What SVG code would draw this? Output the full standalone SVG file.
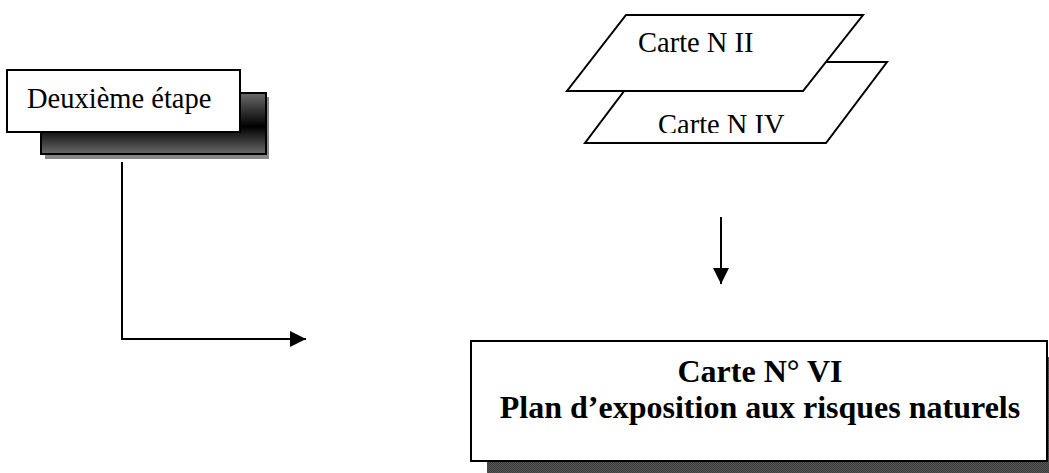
<svg xmlns="http://www.w3.org/2000/svg" width="1049" height="473" viewBox="0 0 1049 473">
  <style>
    .txt { font-family: "Liberation Serif", "Times New Roman", serif; fill: #000; }
    .reg { font-size: 28.5px; }
    .bold { font-size: 32px; font-weight: bold; text-anchor: middle; }
    .shape { fill: #fff; stroke: #000; stroke-width: 2; }
    .conn { fill: none; stroke: #000; stroke-width: 2; }
  </style>
  <defs>
    <linearGradient id="shadeGrad" x1="0" y1="0" x2="0" y2="1">
      <stop offset="0" stop-color="#6a6a6a"/>
      <stop offset="0.55" stop-color="#000"/>
      <stop offset="1" stop-color="#6a6a6a"/>
    </linearGradient>
    <pattern id="dots" width="2" height="2" patternUnits="userSpaceOnUse">
      <rect width="2" height="2" fill="#555"/>
      <rect width="1" height="1" fill="#3c3c3c"/>
      <rect x="1" y="1" width="1" height="1" fill="#3c3c3c"/>
    </pattern>
    <marker id="arrow" viewBox="0 0 16 16" refX="16" refY="8" markerWidth="16" markerHeight="16" markerUnits="userSpaceOnUse" orient="auto">
      <path d="M0,0 L16,8 L0,16 Z" fill="#000"/>
    </marker>
    <clipPath id="clipIV">
      <rect x="580" y="60" width="320" height="73"/>
    </clipPath>
  </defs>

  <g id="connectors">
    <polyline class="conn" points="122,162 122,339 306,339" marker-end="url(#arrow)"/>
    <line class="conn" x1="721" y1="217" x2="721" y2="284" marker-end="url(#arrow)"/>
  </g>

  <g id="node-deuxieme">
    <rect x="45" y="97" width="224" height="62" fill="#888"/>
    <rect x="41" y="93" width="225" height="61" fill="url(#shadeGrad)" stroke="#000" stroke-width="2"/>
    <rect class="shape" x="7" y="70" width="233" height="62"/>
    <text class="txt reg" x="27" y="108">Deuxième étape</text>
  </g>

  <g id="node-carte-iv">
    <polygon class="shape" points="646,62 887,62 826,143 585,143"/>
    <text class="txt reg" x="658" y="134" clip-path="url(#clipIV)">Carte N IV</text>
  </g>

  <g id="node-carte-ii">
    <polygon class="shape" points="626,15 863,15 803,91 567,91"/>
    <text class="txt reg" x="638" y="52">Carte N II</text>
  </g>

  <g id="node-carte-vi">
    <rect x="487" y="357" width="580" height="130" fill="url(#dots)"/>
    <rect class="shape" x="471" y="341" width="576" height="120"/>
    <text class="txt bold" x="760" y="382">Carte N° VI</text>
    <text class="txt bold" x="760" y="418">Plan d’exposition aux risques naturels</text>
  </g>
</svg>
